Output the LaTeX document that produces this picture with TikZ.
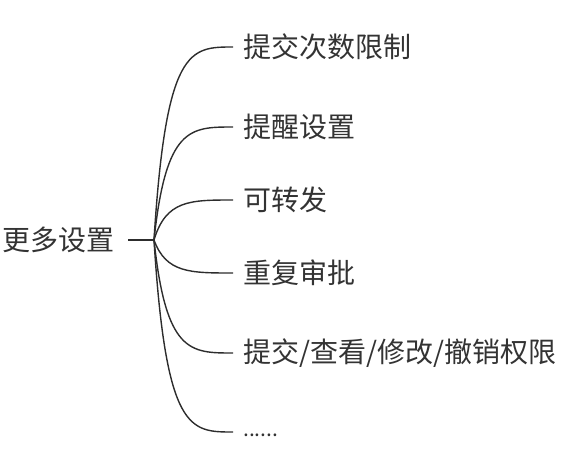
\documentclass[tikz,border=0pt]{standalone}
\usepackage{fontspec}
\newfontfamily\cjk{Noto Sans CJK SC}
\usetikzlibrary{calc, positioning}
\definecolor{TextGray}{RGB}{51,51,51}
\definecolor{LineGray}{RGB}{45,45,45}

\begin{document}
\begin{tikzpicture}[x=1pt, y=-1pt,
	topic/.style={font=\cjk\fontsize{28}{32}\selectfont, text=TextGray, inner sep=0pt},
	branch/.style={draw=LineGray, line width=1.4pt}]
	\useasboundingbox (0,0) rectangle (584,464);
	% zentrum
	\node[topic, anchor=east, inner xsep=13pt] (root) at (128,240) {更多设置};
	\coordinate (hub) at (154,240);
	\draw[branch] (root.east) -- (hub);
	% zweige
	\foreach \name/\ypos/\txt in {c1/47/{提交次数限制}, c2/127/{提醒设置}, c3/200/{可转发},
		c4/273/{重复审批}, c5/353/{提交/查看/修改/撤销权限}}{
		\node[topic, anchor=west, inner xsep=10pt] (\name) at (233,\ypos) {\txt};
		\draw[branch] (hub) .. controls ($(hub |- \name.west)+(12,0)$)
			and ($(hub |- \name.west)+(36,0)$) .. (\name.west);
	}
	\node[topic, font=\cjk\fontsize{21}{24}\selectfont, anchor=base west,
		inner xsep=10pt] (c6) at (233,436) {......};
	\coordinate (c6end) at (233,432);
	\draw[branch] (hub) .. controls ($(hub |- c6end)+(12,0)$)
		and ($(hub |- c6end)+(36,0)$) .. (c6end);
\end{tikzpicture}
\end{document}
